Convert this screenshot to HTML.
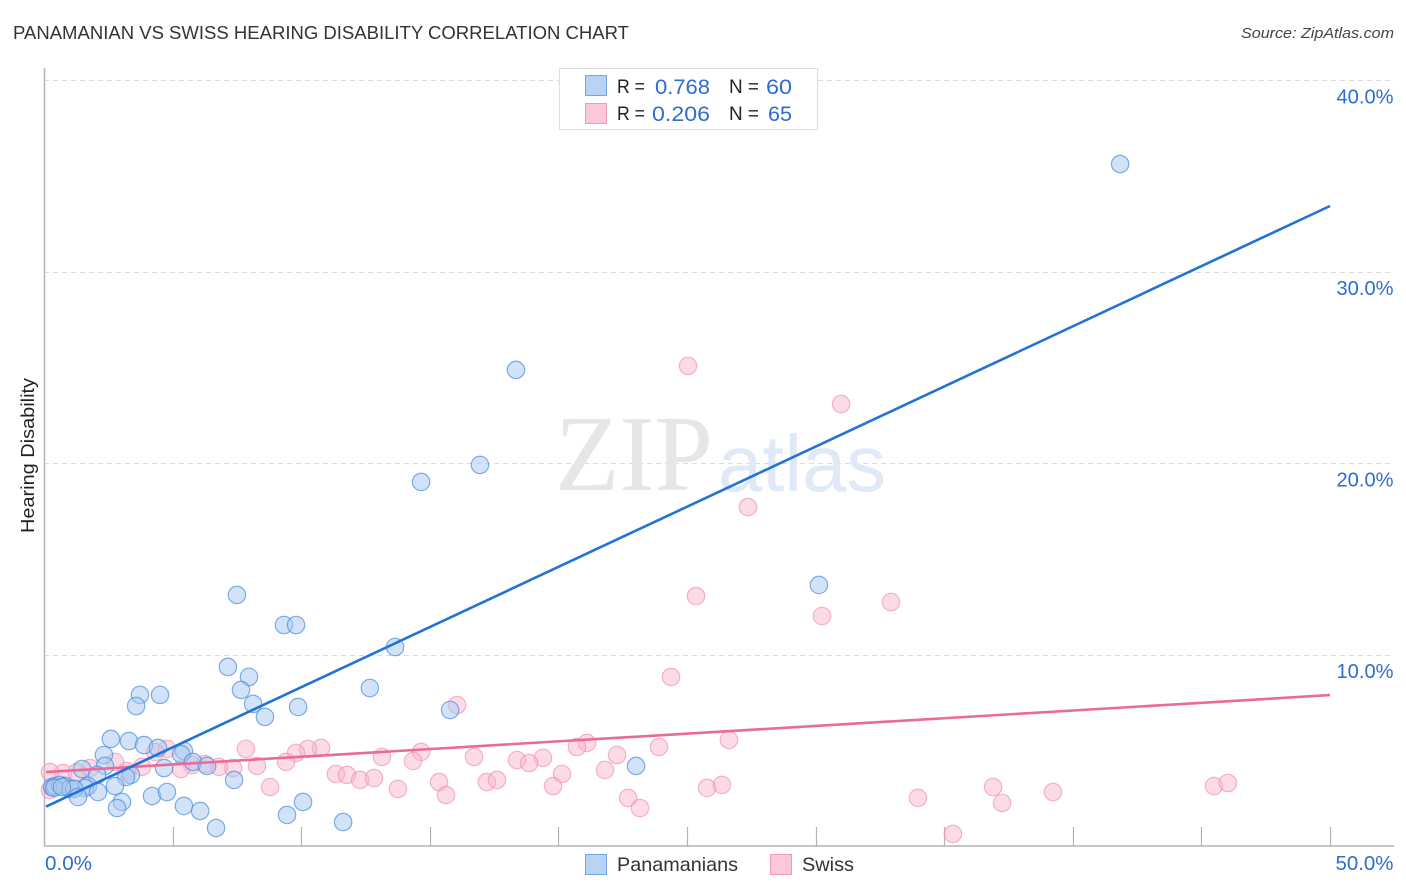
<!DOCTYPE html>
<html lang="en">
<head>
<meta charset="utf-8">
<title>Panamanian vs Swiss Hearing Disability Correlation Chart</title>
<style>
html,body{margin:0;padding:0;background:#fff;width:1406px;height:892px;overflow:hidden}
svg{display:block}
text{font-family:"Liberation Sans",sans-serif}
</style>
</head>
<body>
<svg id="chart" xmlns="http://www.w3.org/2000/svg" width="1406" height="892" viewBox="0 0 1406 892">
  <rect x="0" y="0" width="1406" height="892" fill="#ffffff"/>
  <text x="13" y="39" font-size="18.5" fill="#333333" textLength="616" lengthAdjust="spacingAndGlyphs">PANAMANIAN VS SWISS HEARING DISABILITY CORRELATION CHART</text>
  <text x="1241" y="38" font-size="15" font-style="italic" fill="#444444" textLength="153" lengthAdjust="spacingAndGlyphs">Source: ZipAtlas.com</text>
  <text transform="translate(34,533) rotate(-90)" x="0" y="0" font-size="18" fill="#222222" textLength="155" lengthAdjust="spacingAndGlyphs">Hearing Disability</text>
  <g id="grid"></g>
  <g>
    <text x="555" y="490" font-size="108" fill="#e6e6e6" textLength="158" lengthAdjust="spacingAndGlyphs" style="font-family:'Liberation Serif',serif">ZIP</text>
    <text x="718" y="491" font-size="80" fill="#dfe9f7" textLength="168" lengthAdjust="spacingAndGlyphs" style="font-family:'Liberation Sans',sans-serif">atlas</text>
  </g>
  <g id="axes"></g>
  <g id="swiss-points"></g>
  <g id="panamanian-points"></g>
  <g id="trend-lines"></g>
  <g id="tick-labels"></g>

  <g>
    <rect x="559.5" y="68.5" width="258" height="61" fill="#ffffff" stroke="#dddddd" stroke-width="1"/>
    <rect x="585.5" y="75.5" width="21" height="20" fill="#b9d3f5" stroke="#76a5e4" stroke-width="1"/>
    <rect x="585.5" y="103.5" width="21" height="20" fill="#fcc8d9" stroke="#f09ab8" stroke-width="1"/>
    <text x="617" y="93" font-size="19" fill="#222222" textLength="28" lengthAdjust="spacingAndGlyphs">R =</text>
    <text x="655" y="94" font-size="21" fill="#2e6cd0" textLength="55" lengthAdjust="spacingAndGlyphs">0.768</text>
    <text x="729" y="93" font-size="19" fill="#222222" textLength="30" lengthAdjust="spacingAndGlyphs">N =</text>
    <text x="766" y="94" font-size="21" fill="#2e6cd0" textLength="26" lengthAdjust="spacingAndGlyphs">60</text>
    <text x="617" y="120" font-size="19" fill="#222222" textLength="28" lengthAdjust="spacingAndGlyphs">R =</text>
    <text x="652" y="121" font-size="21" fill="#2e6cd0" textLength="58" lengthAdjust="spacingAndGlyphs">0.206</text>
    <text x="729" y="120" font-size="19" fill="#222222" textLength="30" lengthAdjust="spacingAndGlyphs">N =</text>
    <text x="768" y="121" font-size="21" fill="#2e6cd0" textLength="24" lengthAdjust="spacingAndGlyphs">65</text>
  </g>

  <g>
    <rect x="585.5" y="854.5" width="21" height="20" fill="#b9d3f5" stroke="#76a5e4" stroke-width="1"/>
    <text x="617" y="871" font-size="19.5" fill="#333333" textLength="121" lengthAdjust="spacingAndGlyphs">Panamanians</text>
    <rect x="770.5" y="854.5" width="21" height="20" fill="#fcc8d9" stroke="#f09ab8" stroke-width="1"/>
    <text x="802" y="871" font-size="19.5" fill="#333333" textLength="52" lengthAdjust="spacingAndGlyphs">Swiss</text>
  </g>
</svg>
<script>
const panamaniansX = [41.84,18.35,16.95,14.66,7.50,30.13,9.33,9.80,13.65,7.15,7.97,12.67,7.66,3.73,4.51,3.58,8.13,9.88,15.79,8.59,2.60,3.30,3.89,2.33,4.43,5.44,5.33,5.79,6.34,4.67,23.02,1.48,2.37,2.06,3.38,3.19,7.39,2.76,1.71,1.59,0.31,0.43,0.62,0.82,1.01,1.17,0.39,2.10,1.32,3.03,2.84,4.20,4.78,5.44,6.07,6.69,9.45,10.07,11.63,0.70];
const panamaniansY = [35.61,24.86,19.90,19.01,13.11,13.63,11.54,11.54,10.39,9.35,8.83,8.25,8.15,7.89,7.89,7.31,7.42,7.26,7.10,6.74,5.59,5.48,5.27,4.75,5.12,4.96,4.80,4.39,4.18,4.07,4.18,4.02,4.18,3.71,3.71,3.60,3.45,3.13,3.13,3.03,3.08,3.13,3.19,3.13,2.98,2.98,3.03,2.82,2.56,2.30,1.98,2.61,2.82,2.09,1.83,0.94,1.62,2.30,1.25,3.08];
const swissX = [25.04,30.99,27.37,25.35,32.93,30.25,24.38,16.06,26.63,23.91,21.11,20.72,22.28,7.85,4.78,4.32,10.77,10.26,9.80,9.41,13.14,14.66,14.35,16.72,18.39,19.40,18.86,21.81,20.14,8.28,7.35,6.80,6.26,5.75,5.33,3.81,2.76,1.79,0.74,0.23,1.28,3.23,11.35,11.78,12.29,12.83,13.76,8.79,15.36,15.63,17.22,17.61,19.79,22.71,23.17,25.78,26.36,33.98,36.90,37.25,39.23,45.49,46.03,35.34,0.23];
const swissY = [25.07,23.08,17.70,13.05,12.74,12.01,8.83,7.36,5.54,5.17,5.38,5.17,4.75,5.07,5.07,4.91,5.12,5.07,4.86,4.39,4.65,4.91,4.44,4.65,4.49,4.60,4.33,3.97,3.76,4.18,4.07,4.13,4.28,4.23,4.02,4.13,4.39,4.07,3.81,3.86,3.86,3.92,3.76,3.71,3.45,3.55,2.98,3.08,3.34,2.66,3.34,3.45,3.13,2.51,1.98,3.03,3.19,2.51,3.08,2.25,2.82,3.13,3.29,0.63,2.92];
const panamaniansTrendX = [0.08,50];
const panamaniansTrendY = [2.06,33.42];
const swissTrendX = [0.08,50];
const swissTrendY = [3.86,7.88];
const yGridValues = [10,20,30,40];
const yTickLabels = ["10.0%","20.0%","30.0%","40.0%"];
const xTickValues = [5,10,15,20,25,30,35,40,45,50];
const xTickLabelValues = [0,50];
const xTickLabels = ["0.0%","50.0%"];

const NS = "http://www.w3.org/2000/svg";
const xScale = v => 44 + v * 25.72;
const yScale = v => 846 - v * 19.15;
function make(tag, attrs, parent) {
  const el = document.createElementNS(NS, tag);
  for (const k in attrs) el.setAttribute(k, attrs[k]);
  parent.appendChild(el);
  return el;
}

const gridGroup = document.getElementById("grid");
yGridValues.forEach(v => {
  const y = Math.round(yScale(v)) + 0.5;
  const line = make("line", {x1:44, x2:1394, y1:y, y2:y, stroke:"#dcdcdc", "stroke-width":1, "stroke-dasharray":"5 4"}, gridGroup);
  
  
});

const axesGroup = document.getElementById("axes");
const yAxis = make("line", {x1:44.5, x2:44.5, y1:68, y2:846, stroke:"#b3b3b3", "stroke-width":1.5}, axesGroup);


const xAxis = make("line", {x1:44, x2:1394, y1:846, y2:846, stroke:"#b3b3b3", "stroke-width":1.5}, axesGroup);


xTickValues.forEach(v => {
  const x = Math.round(xScale(v)) + 0.5;
  const tick = make("line", {x1:x, x2:x, y1:827, y2:846, stroke:"#b3b3b3", "stroke-width":1.2}, axesGroup);
  
  
});

function drawPoints(groupId, xs, ys, fill, stroke, fillOpacity, strokeOpacity, name) {
  const group = document.getElementById(groupId);
  xs.forEach((v, i) => {
    const c = make("circle", {cx:xScale(v), cy:yScale(ys[i]), r:8.7, fill:fill, "fill-opacity":fillOpacity, stroke:stroke, "stroke-opacity":strokeOpacity, "stroke-width":1.2}, group);
    
    
  });
}
drawPoints("swiss-points", swissX, swissY, "#f9b4cb", "#ee8fb0", 0.48, 0.65, "swiss-point");
drawPoints("panamanian-points", panamaniansX, panamaniansY, "#a9c9f2", "#4f8fe0", 0.52, 0.72, "panamanian-point");

const trendGroup = document.getElementById("trend-lines");
const swissLine = make("line", {x1:xScale(swissTrendX[0]), y1:yScale(swissTrendY[0]), x2:xScale(swissTrendX[1]), y2:yScale(swissTrendY[1]), stroke:"#ea6a9b", "stroke-width":2.6}, trendGroup);


const panLine = make("line", {x1:xScale(panamaniansTrendX[0]), y1:yScale(panamaniansTrendY[0]), x2:xScale(panamaniansTrendX[1]), y2:yScale(panamaniansTrendY[1]), stroke:"#2272d8", "stroke-width":2.6}, trendGroup);



const labelGroup = document.getElementById("tick-labels");
yTickLabels.forEach((t, i) => {
  const lab = make("text", {x:1393.5, y:yScale(yGridValues[i]) + 23.5, "font-size":20, fill:"#2e6cd0", "text-anchor":"end", textLength:57, lengthAdjust:"spacingAndGlyphs"}, labelGroup);
  lab.textContent = t;
  
  
});
xTickLabels.forEach((t, i) => {
  const isLast = i === xTickLabels.length - 1;
  const lab = make("text", {x:isLast ? 1393.5 : xScale(xTickLabelValues[i]) + 1, y:870, "font-size":20, fill:"#2e6cd0", "text-anchor":isLast ? "end" : "start", textLength:isLast ? 58 : 47, lengthAdjust:"spacingAndGlyphs"}, labelGroup);
  lab.textContent = t;
  
  
});
</script>
</body>
</html>
